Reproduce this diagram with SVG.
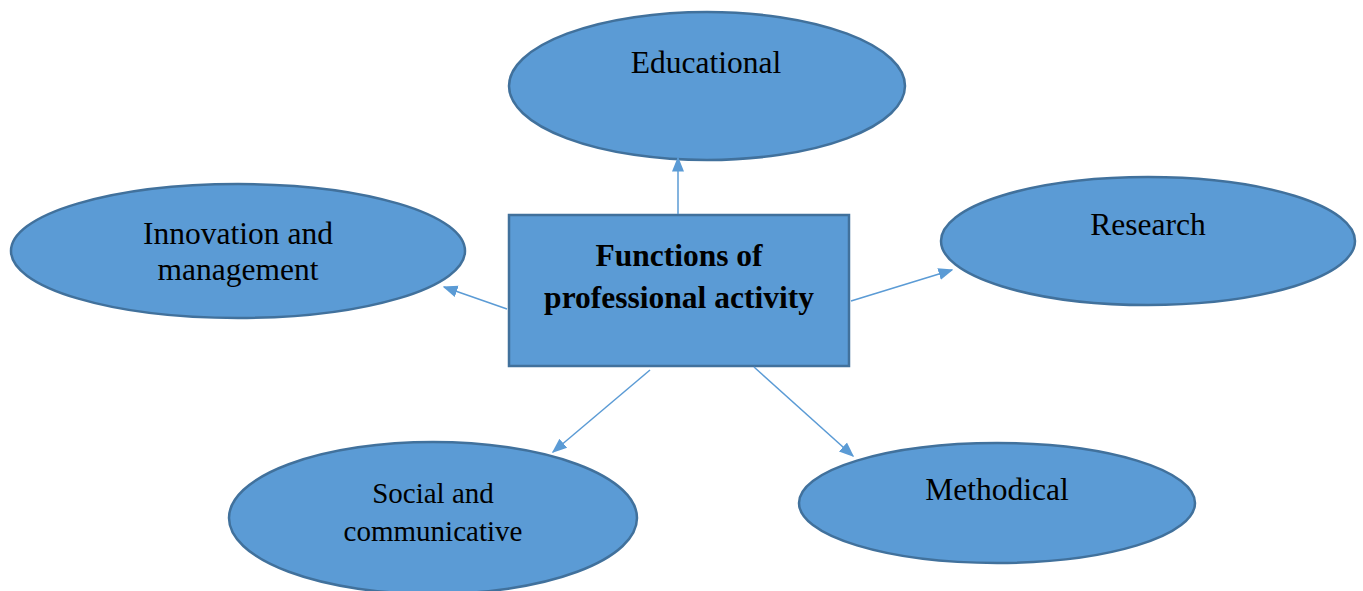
<svg xmlns="http://www.w3.org/2000/svg" width="1363" height="591" viewBox="0 0 1363 591">
<style>
.n{fill:#5B9BD5;stroke:#41719C;stroke-width:2.5}
.t{font-family:"Liberation Serif","Times New Roman",serif;font-size:31.5px;fill:#000;text-anchor:middle}
.s{font-size:29px}
.b{font-weight:bold;font-size:31.5px}
.c{stroke:#5B9BD5;stroke-width:1.5;fill:none;marker-end:url(#a)}
</style>
<defs>
<marker id="a" viewBox="0 0 10 10" refX="9" refY="5" markerWidth="15" markerHeight="15" markerUnits="userSpaceOnUse" orient="auto">
<path d="M0,1 L10,5 L0,9 z" fill="#5B9BD5"/>
</marker>
</defs>
<rect width="1363" height="591" fill="#fff"/>
<g id="educational"><ellipse class="n" cx="707" cy="86" rx="198" ry="74"/><text class="t" x="706" y="73">Educational</text></g>
<g id="innovation"><ellipse class="n" cx="238" cy="251" rx="227" ry="67"/><text class="t" x="238" y="244">Innovation and</text><text class="t" x="238" y="280">management</text></g>
<g id="research"><ellipse class="n" cx="1148" cy="241" rx="207" ry="64"/><text class="t" x="1148" y="235">Research</text></g>
<g id="social"><ellipse class="n" cx="433" cy="518" rx="204" ry="76"/><text class="t s" x="433" y="503">Social and</text><text class="t s" x="433" y="541">communicative</text></g>
<g id="methodical"><ellipse class="n" cx="997" cy="503" rx="198" ry="60"/><text class="t" x="997" y="500">Methodical</text></g>
<g id="center"><rect class="n" x="509" y="215" width="340" height="151"/><text class="t b" x="679" y="266">Functions of</text><text class="t b" x="679" y="308">professional activity</text></g>
<g id="connectors">
<line class="c" x1="678" y1="214" x2="678" y2="158"/>
<line class="c" x1="507" y1="309" x2="444" y2="287"/>
<line class="c" x1="851" y1="301" x2="952" y2="270"/>
<line class="c" x1="650" y1="370" x2="553" y2="452"/>
<line class="c" x1="754" y1="367" x2="853" y2="456"/>
</g>
</svg>
